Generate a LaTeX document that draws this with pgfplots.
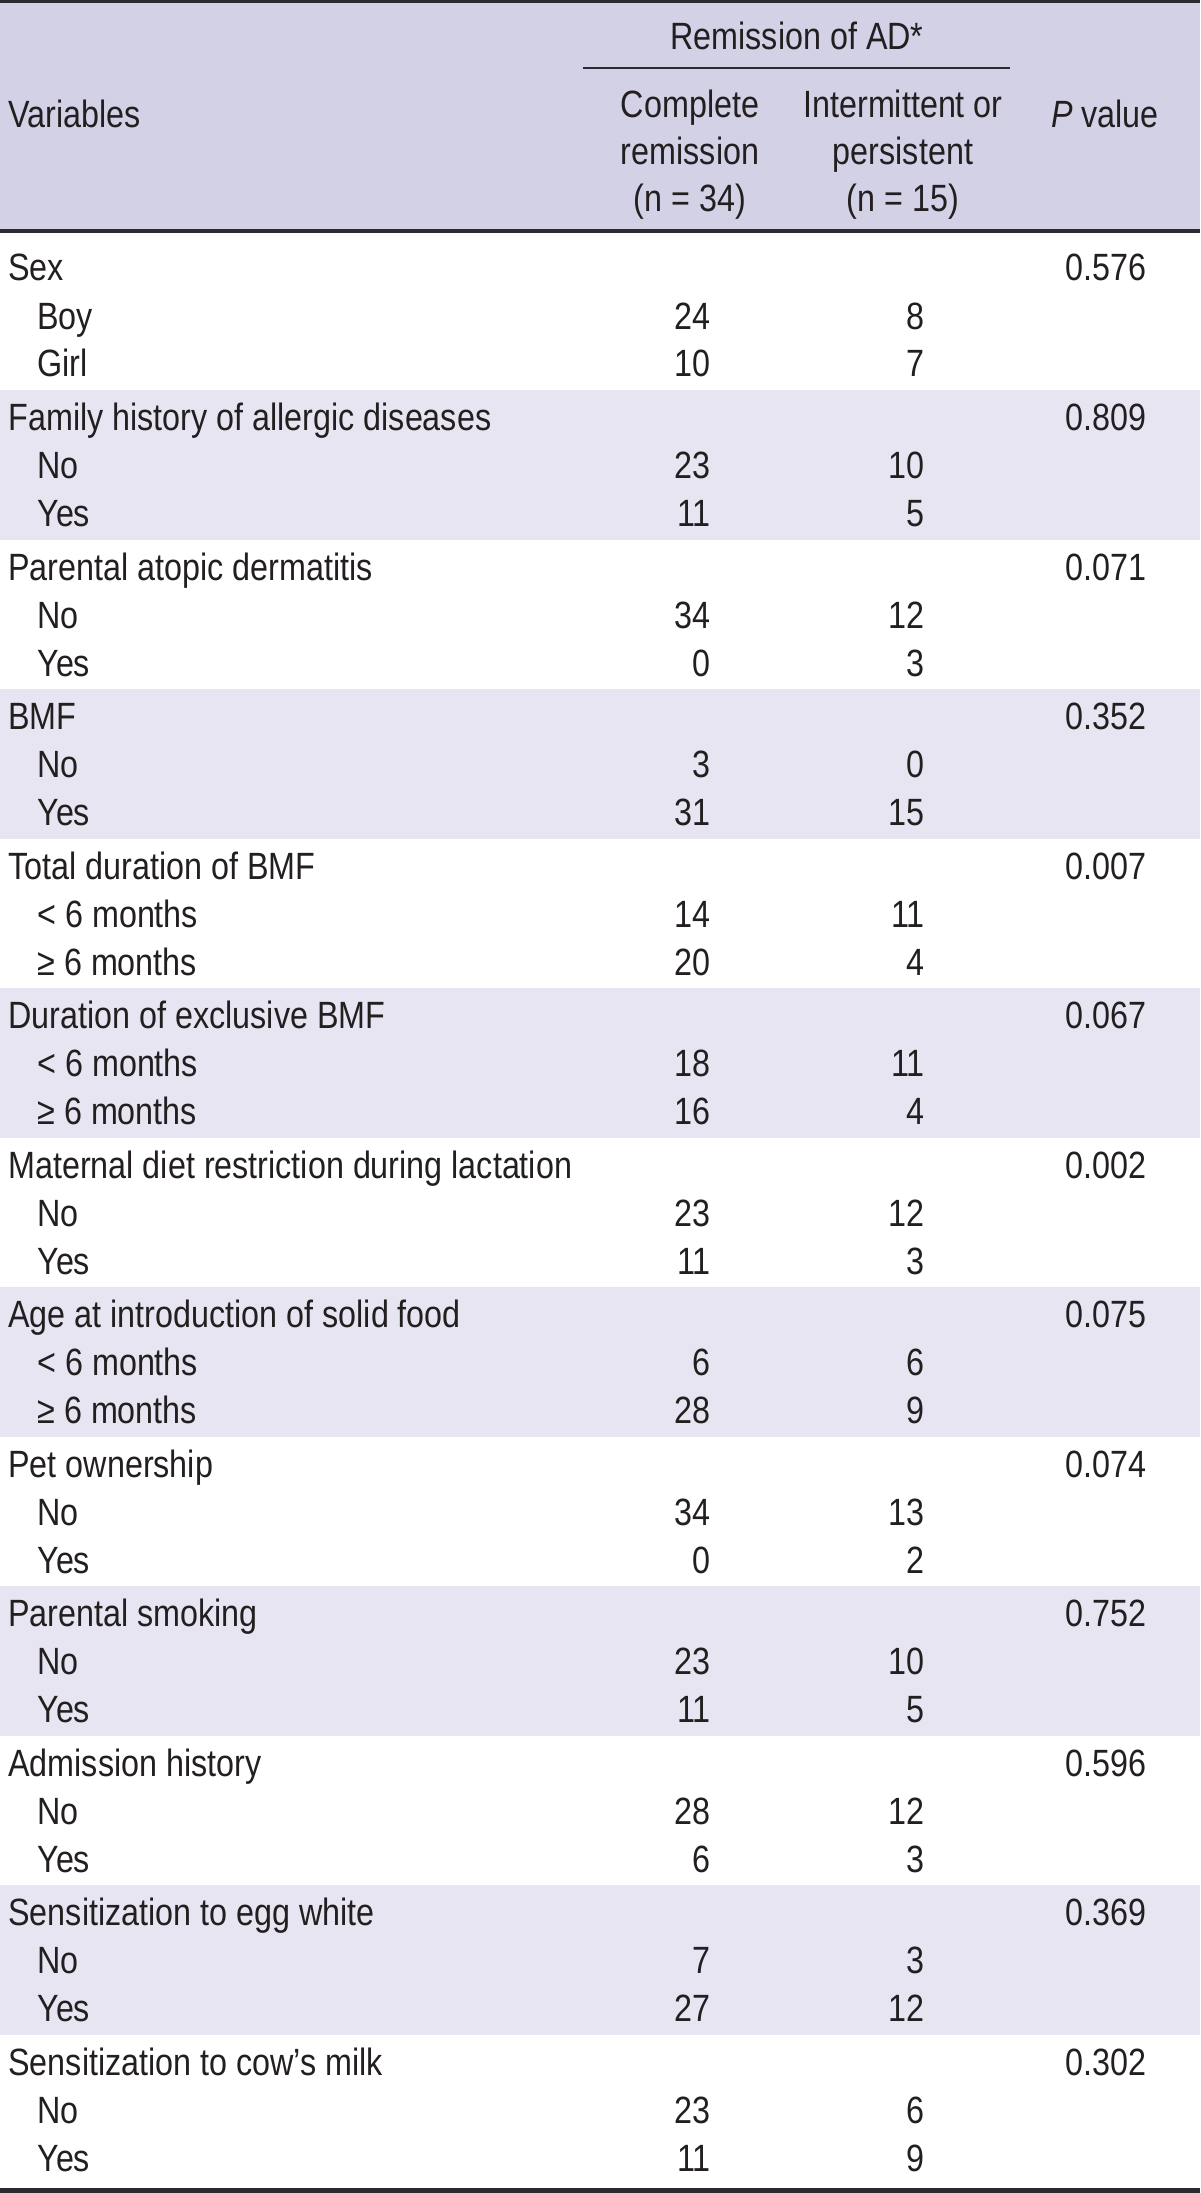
\documentclass[border=0pt]{standalone}
\usepackage{fontspec}
\setmainfont{Liberation Sans}[FakeStretch=0.85]
\usepackage{pgfplots}
\pgfplotsset{compat=1.18}
\definecolor{hdr}{RGB}{211,209,230}
\definecolor{band}{RGB}{231,229,241}
\definecolor{rulec}{RGB}{45,43,50}
\definecolor{txt}{RGB}{35,31,32}
\newcommand\tf{\fontsize{19}{19}\selectfont}
\begin{document}
\begin{tikzpicture}
\begin{axis}[scale only axis, width=600pt, height=1096.5pt,
  xmin=0, xmax=1200, ymin=0, ymax=2193, y dir=reverse,
  hide axis, clip=false,
  point meta=explicit symbolic,
  every node near coord/.append style={inner sep=0pt, font=\tf, text=txt, yshift=-1pt}]
\fill[white] (axis cs:0,0) rectangle (axis cs:1200,2193);
% header
\fill[hdr] (axis cs:0,0) rectangle (axis cs:1200,231);
\fill[rulec] (axis cs:0,0) rectangle (axis cs:1200,3);
\fill[rulec] (axis cs:0,229) rectangle (axis cs:1200,233);
\fill[rulec] (axis cs:583,67) rectangle (axis cs:1010,69.5);
% bands
\fill[band] (axis cs:0,390) rectangle (axis cs:1200,539.5);
\fill[band] (axis cs:0,689) rectangle (axis cs:1200,838.5);
\fill[band] (axis cs:0,988) rectangle (axis cs:1200,1137.5);
\fill[band] (axis cs:0,1287) rectangle (axis cs:1200,1436.5);
\fill[band] (axis cs:0,1586) rectangle (axis cs:1200,1735.5);
\fill[band] (axis cs:0,1885) rectangle (axis cs:1200,2034.5);
\fill[rulec] (axis cs:0,2188) rectangle (axis cs:1200,2193);
% header text
\node[anchor=base, inner sep=0pt, font=\tf, text=txt] at (axis cs:797,50) {Remission of AD*};
\node[anchor=base west, inner sep=0pt, font=\tf, text=txt] at (axis cs:8,128) {Variables};
\node[anchor=base, inner sep=0pt, font=\tf, text=txt] at (axis cs:1105,128) {\textit{P} value};
\node[anchor=base, inner sep=0pt, font=\tf, text=txt] at (axis cs:690,118) {Complete};
\node[anchor=base, inner sep=0pt, font=\tf, text=txt] at (axis cs:690,165) {remission};
\node[anchor=base, inner sep=0pt, font=\tf, text=txt] at (axis cs:690,212) {(n = 34)};
\node[anchor=base, inner sep=0pt, font=\tf, text=txt] at (axis cs:903,118) {Intermittent or};
\node[anchor=base, inner sep=0pt, font=\tf, text=txt] at (axis cs:903,165) {persistent};
\node[anchor=base, inner sep=0pt, font=\tf, text=txt] at (axis cs:903,212) {(n = 15)};
% variable names
\addplot[draw=none, mark=none, nodes near coords,
  every node near coord/.append style={anchor=base west}] coordinates {
(8,279) [Sex] (37,327) [Boy] (37,375) [Girl]
(8,428.5) [Family history of allergic diseases] (37,476.5) [No] (37,524.5) [Yes]
(8,578) [Parental atopic dermatitis] (37,626) [No] (37,674) [Yes]
(8,727.5) [BMF] (37,775.5) [No] (37,823.5) [Yes]
(8,877) [Total duration of BMF] (37,925) [< 6 months] (37,973) [≥ 6 months]
(8,1026.5) [Duration of exclusive BMF] (37,1074.5) [< 6 months] (37,1122.5) [≥ 6 months]
(8,1176) [Maternal diet restriction during lactation] (37,1224) [No] (37,1272) [Yes]
(8,1325.5) [Age at introduction of solid food] (37,1373.5) [< 6 months] (37,1421.5) [≥ 6 months]
(8,1475) [Pet ownership] (37,1523) [No] (37,1571) [Yes]
(8,1624.5) [Parental smoking] (37,1672.5) [No] (37,1720.5) [Yes]
(8,1774) [Admission history] (37,1822) [No] (37,1870) [Yes]
(8,1923.5) [Sensitization to egg white] (37,1971.5) [No] (37,2019.5) [Yes]
(8,2073) [Sensitization to cow’s milk] (37,2121) [No] (37,2169) [Yes]
};
% complete remission counts
\addplot[draw=none, mark=none, nodes near coords,
  every node near coord/.append style={anchor=base east}] coordinates {
(711,327) [24] (711,375) [10]
(711,476.5) [23] (711,524.5) [11]
(711,626) [34] (711,674) [0]
(711,775.5) [3] (711,823.5) [31]
(711,925) [14] (711,973) [20]
(711,1074.5) [18] (711,1122.5) [16]
(711,1224) [23] (711,1272) [11]
(711,1373.5) [6] (711,1421.5) [28]
(711,1523) [34] (711,1571) [0]
(711,1672.5) [23] (711,1720.5) [11]
(711,1822) [28] (711,1870) [6]
(711,1971.5) [7] (711,2019.5) [27]
(711,2121) [23] (711,2169) [11]
};
% intermittent or persistent counts
\addplot[draw=none, mark=none, nodes near coords,
  every node near coord/.append style={anchor=base east}] coordinates {
(925,327) [8] (925,375) [7]
(925,476.5) [10] (925,524.5) [5]
(925,626) [12] (925,674) [3]
(925,775.5) [0] (925,823.5) [15]
(925,925) [11] (925,973) [4]
(925,1074.5) [11] (925,1122.5) [4]
(925,1224) [12] (925,1272) [3]
(925,1373.5) [6] (925,1421.5) [9]
(925,1523) [13] (925,1571) [2]
(925,1672.5) [10] (925,1720.5) [5]
(925,1822) [12] (925,1870) [3]
(925,1971.5) [3] (925,2019.5) [12]
(925,2121) [6] (925,2169) [9]
};
% P values
\addplot[draw=none, mark=none, nodes near coords,
  every node near coord/.append style={anchor=base east}] coordinates {
(1147,279) [0.576] (1147,428.5) [0.809] (1147,578) [0.071] (1147,727.5) [0.352]
(1147,877) [0.007] (1147,1026.5) [0.067] (1147,1176) [0.002] (1147,1325.5) [0.075]
(1147,1475) [0.074] (1147,1624.5) [0.752] (1147,1774) [0.596] (1147,1923.5) [0.369]
(1147,2073) [0.302]
};
\end{axis}
\end{tikzpicture}
\end{document}
